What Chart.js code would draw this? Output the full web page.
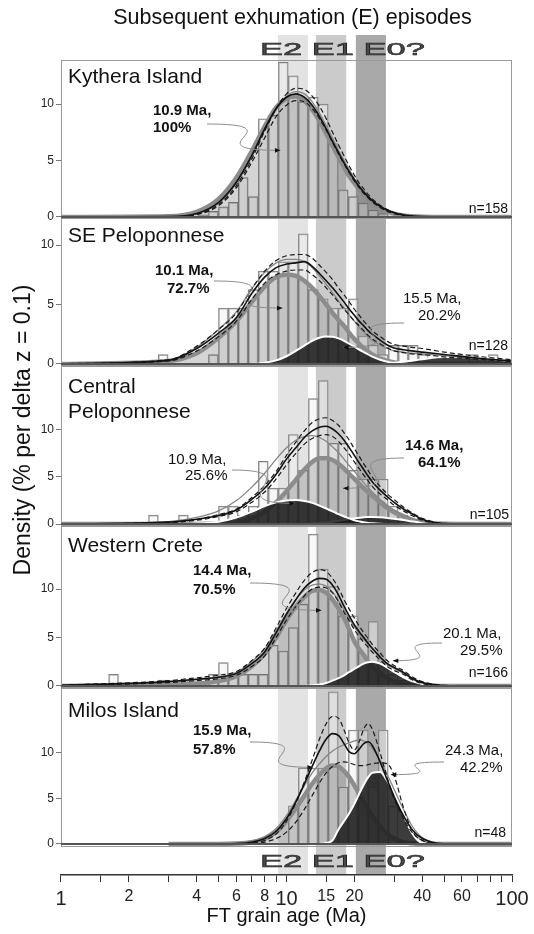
<!DOCTYPE html>
<html>
<head>
<meta charset="utf-8">
<script src="https://cdn.jsdelivr.net/npm/chart.js@4"></script>
<style>
  body { margin: 0; background: #fff; }
  #wrap { position: relative; width: 534px; height: 934px; overflow: hidden; }
  #c { position: absolute; left: 0; top: 0; }
  .t { position: absolute; white-space: nowrap; font-family: "Liberation Sans", Arial, sans-serif; color: #111; line-height: 1; }
  .lab { font-size: 21px; }
  .ann { font-size: 15px; }
  .b { font-weight: bold; }
  .n { font-size: 14px; }
  .e { font-size: 17px; transform: scaleX(2.03); transform-origin: 0 0; color: #4a4a4a; -webkit-text-stroke: 0.5px #222; }
</style>
</head>
<body>
<div id="wrap">
  <canvas id="c" width="534" height="934"></canvas>

  <div class="t" style="left:92px;width:401px;text-align:center;top:7px;font-size:21.5px">Subsequent exhumation (E) episodes</div>
  <div class="t e" style="left:260px;top:41px">E2 E1 E0?</div>
  <div class="t e" style="left:260px;top:853px">E2 E1 E0?</div>
  <div class="t" style="left:-178px;top:417px;width:400px;height:26px;line-height:26px;text-align:center;font-size:23px;transform:rotate(-90deg)">Density (% per delta z = 0.1)</div>

  <div class="t lab" style="left:68px;top:65px">Kythera Island</div>
  <div class="t lab" style="left:68px;top:224px">SE Peloponnese</div>
  <div class="t lab" style="left:68px;top:375px">Central</div>
  <div class="t lab" style="left:68px;top:400px">Peloponnese</div>
  <div class="t lab" style="left:68px;top:534px">Western Crete</div>
  <div class="t lab" style="left:68px;top:699px">Milos Island</div>

  <div class="t ann b" style="left:153px;top:102px">10.9 Ma,</div>
  <div class="t ann b" style="left:153px;top:119px">100%</div>
  <div class="t ann b" style="left:155px;top:262px">10.1 Ma,</div>
  <div class="t ann b" style="left:167px;top:280px">72.7%</div>
  <div class="t ann" style="left:403px;top:290px">15.5 Ma,</div>
  <div class="t ann" style="left:418px;top:307px">20.2%</div>
  <div class="t ann" style="left:168px;top:451px">10.9 Ma,</div>
  <div class="t ann" style="left:185px;top:467px">25.6%</div>
  <div class="t ann b" style="left:405px;top:437px">14.6 Ma,</div>
  <div class="t ann b" style="left:418px;top:454px">64.1%</div>
  <div class="t ann b" style="left:193px;top:562px">14.4 Ma,</div>
  <div class="t ann b" style="left:193px;top:581px">70.5%</div>
  <div class="t ann" style="left:443px;top:625px">20.1 Ma,</div>
  <div class="t ann" style="left:460px;top:642px">29.5%</div>
  <div class="t ann b" style="left:193px;top:722px">15.9 Ma,</div>
  <div class="t ann b" style="left:193px;top:741px">57.8%</div>
  <div class="t ann" style="left:445px;top:742px">24.3 Ma,</div>
  <div class="t ann" style="left:460px;top:759px">42.2%</div>

  <div class="t n" style="right:26px;top:201px">n=158</div>
  <div class="t n" style="right:26px;top:338px">n=128</div>
  <div class="t n" style="right:25px;top:507px">n=105</div>
  <div class="t n" style="right:26px;top:665px">n=166</div>
  <div class="t n" style="right:28px;top:825px">n=48</div>
</div>
<script>
const FONT = '"Liberation Sans", Arial, sans-serif';

// histogram bin centres (Ma), shared by all panels
const binAges = [1.71, 1.89, 2.09, 2.32, 2.57, 2.84, 3.15, 3.49, 3.86, 4.28, 4.74, 5.25, 5.81, 6.43, 7.12, 7.89, 8.74, 9.68, 10.72, 11.87, 13.15, 14.56, 16.13, 17.86, 19.78, 21.91, 24.26, 26.87, 29.76, 32.96, 36.50, 40.43, 44.77, 49.59, 54.92, 60.83, 67.37, 74.62, 82.64, 91.53];

const kytheraBars = [0,0,0,0,0,0,0,0,0, 0.2,0.5,0.9,1.3,3.5,1.8,8.7,9.0,13.7,12.5,10.2,10.6,10.0,6.5,2.4,1.8,1.2,0.6,0.3, 0,0,0,0,0,0,0,0,0,0,0,0];
const sePelBars = [0,0,0,0,0, 0.78, 0,0,0,0, 0.78,4.69,4.69,4.69,6.25,7.81,7.81,8.59,8.59,10.94,6.25,5.47,4.69,4.69,5.47,2.34,1.56,0.78,1.56,1.56,1.56,0.78, 0,0,0,0, 0.78, 0, 0.78, 0];
const cPelBars = [0,0,0,0, 0.95, 0,0, 0.95, 0,0,0, 1.9,1.9,0.95,1.9,6.67,3.81,3.81,9.52,5.71,13.33,15.24,8.57,8.57,5.71,4.76,4.76,4.76,1.9,0.95, 0,0,0,0,0,0,0,0,0,0];
const wCreteBars = [1.2, 0,0,0,0, 0.6, 0, 0.6, 0,0, 1.2,2.41,1.2,1.2,1.2,1.2,4.22,3.61,6.02,8.43,15.66,12.05,10.24,7.23,7.23,4.82,6.63,2.41,1.2,0.6,0.6, 0,0,0,0,0,0,0,0,0];
const milosBars = [0,0,0,0,0,0,0,0,0,0,0,0,0,0,0,0,0,0, 4.17,8.33,8.33,8.33,16.67,6.25,12.5,12.5,6.25,12.5,4.17, 0,0,0,0,0,0,0,0,0,0,0];

// ages at which the density curves were read
const curveAges = [1, 3, 4, 5, 6, 7, 8, 9, 10, 11, 12, 13, 14, 15, 16, 17, 18, 19, 20, 21, 22, 23, 24, 26, 28, 30, 33, 36, 40, 50, 70, 100];

const kytheraPD    = [0, 0.03, 0.3, 1.3, 3.1, 5.4, 7.8, 9.6, 10.6, 10.9, 10.6, 9.9, 8.9, 7.8, 6.7, 5.7, 4.8, 4.0, 3.3, 2.7, 2.2, 1.8, 1.45, 0.95, 0.6, 0.38, 0.18, 0.08, 0.03, 0, 0, 0];
const kytheraHi    = [0, 0.02, 0.25, 1.1, 2.8, 5.1, 7.6, 9.6, 10.9, 11.4, 11.3, 10.7, 9.8, 8.7, 7.5, 6.4, 5.4, 4.5, 3.7, 3.0, 2.5, 2.0, 1.6, 1.05, 0.65, 0.4, 0.2, 0.09, 0.03, 0, 0, 0];
const kytheraLo    = [0, 0.02, 0.2, 1.0, 2.6, 4.8, 7.0, 8.9, 9.9, 10.3, 10.2, 9.6, 8.7, 7.7, 6.6, 5.6, 4.7, 3.9, 3.2, 2.6, 2.1, 1.7, 1.35, 0.85, 0.5, 0.3, 0.14, 0.06, 0.02, 0, 0, 0];
const kytheraAlt   = [0, 0.02, 0.3, 1.2, 3.0, 5.3, 7.7, 9.6, 10.7, 11.1, 10.9, 10.2, 9.2, 8.1, 7.0, 5.9, 5.0, 4.2, 3.4, 2.8, 2.3, 1.85, 1.5, 0.95, 0.6, 0.37, 0.17, 0.08, 0.03, 0, 0, 0];
const kytheraPeak1 = [0, 0.06, 0.45, 1.6, 3.5, 5.8, 8.0, 9.7, 10.5, 10.7, 10.3, 9.5, 8.5, 7.4, 6.3, 5.3, 4.4, 3.6, 3.0, 2.4, 1.95, 1.55, 1.25, 0.8, 0.5, 0.3, 0.14, 0.06, 0.02, 0, 0, 0];

const sePelPD    = [0.02, 0.3, 1.3, 2.6, 3.9, 5.9, 7.3, 8.1, 8.4, 8.5, 8.6, 8.2, 7.6, 7.0, 6.4, 5.8, 5.2, 4.6, 4.1, 3.6, 3.2, 2.8, 2.5, 2.0, 1.6, 1.35, 1.2, 1.1, 1.0, 0.8, 0.5, 0.25];
const sePelHi    = [0.03, 0.35, 1.5, 2.9, 4.3, 6.3, 7.8, 8.7, 9.1, 9.2, 9.2, 8.9, 8.3, 7.7, 7.1, 6.4, 5.8, 5.2, 4.6, 4.1, 3.6, 3.2, 2.8, 2.3, 1.9, 1.65, 1.5, 1.4, 1.3, 1.0, 0.65, 0.35];
const sePelLo    = [0.01, 0.25, 1.1, 2.3, 3.6, 5.4, 6.8, 7.5, 7.8, 7.9, 7.9, 7.5, 7.0, 6.4, 5.8, 5.2, 4.6, 4.1, 3.6, 3.2, 2.8, 2.4, 2.1, 1.7, 1.35, 1.1, 0.95, 0.85, 0.8, 0.6, 0.4, 0.2];
const sePelAlt   = [0.02, 0.35, 1.4, 2.9, 4.4, 6.3, 7.7, 8.5, 8.8, 8.8, 8.6, 8.1, 7.4, 6.7, 6.0, 5.3, 4.7, 4.1, 3.6, 3.1, 2.7, 2.3, 2.0, 1.6, 1.3, 1.1, 1.0, 0.9, 0.85, 0.7, 0.45, 0.2];
const sePelPeak1 = [0, 0.25, 0.9, 2.2, 3.6, 5.2, 6.5, 7.3, 7.5, 7.4, 7.0, 6.4, 5.7, 5.0, 4.3, 3.7, 3.2, 2.6, 2.1, 1.7, 1.35, 1.05, 0.8, 0.45, 0.25, 0.13, 0.05, 0.02, 0, 0, 0, 0];
const sePelPeak2 = [0, 0, 0, 0, 0, 0, 0.1, 0.3, 0.65, 1.1, 1.55, 1.95, 2.2, 2.3, 2.28, 2.15, 1.95, 1.7, 1.45, 1.2, 1.0, 0.8, 0.62, 0.35, 0.18, 0.08, 0.02, 0, 0, 0, 0, 0];
const sePelPeak3 = [0, 0, 0, 0, 0, 0, 0, 0, 0, 0, 0, 0, 0, 0, 0, 0, 0, 0, 0, 0, 0, 0, 0, 0.02, 0.05, 0.1, 0.18, 0.28, 0.4, 0.58, 0.55, 0.3];

const cPelPD    = [0, 0.2, 0.5, 0.9, 1.5, 2.6, 3.8, 5.3, 6.9, 8.1, 9.2, 9.9, 10.3, 10.4, 10.1, 9.6, 8.9, 8.1, 7.3, 6.5, 5.8, 5.1, 4.5, 3.6, 2.9, 2.3, 1.6, 1.1, 0.5, 0.05, 0, 0];
const cPelHi    = [0, 0.2, 0.5, 1.0, 1.6, 2.8, 4.1, 5.6, 7.3, 8.7, 9.9, 10.8, 11.2, 11.3, 11.0, 10.5, 9.7, 8.9, 8.0, 7.2, 6.4, 5.7, 5.0, 4.0, 3.2, 2.6, 1.8, 1.2, 0.6, 0.07, 0, 0];
const cPelLo    = [0, 0.15, 0.4, 0.8, 1.3, 2.3, 3.4, 4.8, 6.3, 7.5, 8.5, 9.1, 9.4, 9.5, 9.3, 8.8, 8.1, 7.4, 6.6, 5.9, 5.2, 4.6, 4.0, 3.2, 2.6, 2.0, 1.4, 0.9, 0.4, 0.04, 0, 0];
const cPelAlt   = [0, 0.25, 0.7, 1.4, 2.5, 3.9, 5.4, 6.9, 8.1, 8.9, 9.3, 9.4, 9.2, 8.8, 8.2, 7.6, 6.9, 6.2, 5.6, 5.0, 4.4, 3.9, 3.4, 2.6, 2.0, 1.5, 1.0, 0.6, 0.25, 0.02, 0, 0];
const cPelPeak1 = [0, 0, 0, 0.05, 0.2, 0.6, 1.3, 2.3, 3.5, 4.7, 5.8, 6.6, 7.0, 7.0, 6.8, 6.4, 5.9, 5.3, 4.8, 4.3, 3.8, 3.4, 3.0, 2.3, 1.7, 1.25, 0.8, 0.45, 0.2, 0.02, 0, 0];
const cPelPeak2 = [0, 0, 0.05, 0.25, 0.7, 1.3, 1.9, 2.3, 2.5, 2.55, 2.45, 2.25, 1.95, 1.65, 1.35, 1.05, 0.8, 0.6, 0.4, 0.28, 0.18, 0.12, 0.07, 0.02, 0, 0, 0, 0, 0, 0, 0, 0];
const cPelPeak3 = [0, 0, 0, 0, 0, 0, 0, 0, 0, 0, 0, 0.05, 0.1, 0.15, 0.25, 0.35, 0.45, 0.53, 0.6, 0.66, 0.71, 0.74, 0.75, 0.72, 0.65, 0.55, 0.42, 0.28, 0.14, 0.01, 0, 0];

const wCretePD    = [0.05, 0.45, 0.7, 0.9, 1.3, 2.3, 3.5, 5.5, 7.4, 8.9, 10.1, 10.8, 11.1, 11.0, 10.4, 9.4, 8.2, 7.2, 6.3, 5.6, 5.0, 4.4, 3.9, 3.0, 2.3, 1.9, 1.4, 0.8, 0.35, 0.05, 0, 0];
const wCreteHi    = [0.07, 0.55, 0.85, 1.1, 1.5, 2.6, 3.9, 6.0, 8.0, 9.6, 10.9, 11.7, 12.0, 11.8, 11.1, 10.1, 8.9, 7.9, 7.0, 6.2, 5.5, 4.9, 4.3, 3.4, 2.6, 2.1, 1.6, 0.95, 0.45, 0.07, 0, 0];
const wCreteLo    = [0.03, 0.35, 0.55, 0.75, 1.1, 2.0, 3.1, 5.0, 6.8, 8.2, 9.3, 10.0, 10.2, 10.1, 9.6, 8.7, 7.6, 6.7, 5.8, 5.1, 4.5, 4.0, 3.5, 2.7, 2.0, 1.6, 1.2, 0.65, 0.25, 0.03, 0, 0];
const wCreteAlt   = [0.04, 0.4, 0.65, 0.9, 1.4, 2.5, 3.8, 5.7, 7.5, 8.9, 9.9, 10.4, 10.5, 10.3, 9.7, 8.8, 7.8, 6.9, 6.1, 5.4, 4.8, 4.3, 3.8, 2.9, 2.2, 1.8, 1.3, 0.75, 0.3, 0.04, 0, 0];
const wCretePeak1 = [0, 0.1, 0.25, 0.5, 1.0, 2.0, 3.3, 5.0, 6.8, 8.2, 9.2, 9.8, 9.9, 9.6, 8.9, 8.0, 7.0, 5.8, 4.6, 3.8, 3.2, 2.5, 2.0, 1.3, 0.8, 0.45, 0.2, 0.08, 0.03, 0, 0, 0];
const wCretePeak2 = [0, 0, 0, 0, 0, 0, 0, 0, 0, 0, 0, 0.05, 0.15, 0.3, 0.55, 0.8, 1.1, 1.45, 1.75, 2.05, 2.3, 2.45, 2.5, 2.3, 1.9, 1.45, 0.9, 0.5, 0.2, 0.02, 0, 0];

const milosPD    = [0, 0, 0, 0.02, 0.06, 0.2, 0.6, 1.4, 2.8, 4.6, 6.6, 8.5, 10.2, 11.5, 12.1, 11.9, 11.0, 10.1, 9.9, 10.4, 11.0, 11.2, 10.8, 9.0, 7.0, 5.2, 3.1, 1.6, 0.6, 0.03, 0, 0];
const milosHi    = [0, 0, 0, 0, 0, 0.1, 0.4, 1.1, 2.5, 4.5, 6.8, 9.2, 11.5, 13.2, 14.0, 13.8, 12.5, 11.0, 10.3, 11.2, 12.6, 13.2, 12.6, 10.0, 7.2, 5.0, 2.8, 1.3, 0.4, 0, 0, 0];
const milosLo    = [0, 0, 0, 0, 0, 0, 0.2, 0.6, 1.3, 2.4, 3.8, 5.3, 6.7, 7.8, 8.5, 8.9, 9.0, 8.9, 8.7, 8.6, 8.6, 8.7, 8.8, 8.9, 8.8, 7.5, 4.0, 1.5, 0.4, 0, 0, 0];
const milosAlt   = [0, 0, 0, 0.02, 0.08, 0.3, 0.8, 1.7, 3.1, 4.8, 6.4, 7.8, 8.8, 9.6, 10.2, 10.6, 10.9, 11.1, 11.3, 11.4, 11.3, 11.0, 10.5, 9.2, 7.6, 6.0, 3.8, 2.0, 0.7, 0.03, 0, 0];
const milosPeak1 = [null, 0, 0, 0, 0.05, 0.2, 0.55, 1.3, 2.5, 3.9, 5.3, 6.6, 7.6, 8.3, 8.6, 8.5, 8.0, 7.3, 6.4, 5.5, 4.6, 3.8, 3.1, 1.9, 1.1, 0.6, 0.2, 0.07, 0.01, 0, 0, 0];
const milosPeak2 = [0, 0, 0, 0, 0, 0, 0, 0, 0, 0, 0, 0, 0, 0.1, 0.4, 1.6, 2.5, 3.4, 4.4, 5.5, 6.5, 7.3, 7.8, 7.9, 6.9, 5.5, 3.2, 1.2, 0.1, 0, 0, 0];

// exhumation episodes E2, E1, E0? (Ma)
const bandFrom = [9.17, 13.5, 20.3];
const bandTo = [12.45, 18.4, 27.6];
const bandColors = ['#e3e3e3', '#cbcbcb', '#a9a9a9'];

const axisTicks = [1, 1.5, 2, 3, 4, 5, 6, 7, 8, 9, 10, 15, 20, 30, 40, 50, 60, 70, 80, 90, 100];
const axisLabels = [1, 2, 4, 6, 8, 10, 15, 20, 40, 60, 100];
const bigLabels = [1, 10, 100];
const yTicks = [0, 5, 10];

// leader lines from the peak labels to the fitted peaks
const notes = [
  {axis: 'p1', age: 9.4, value: 5.9, from: [207, 124]},
  {axis: 'p2', age: 9.6, value: 4.7, from: [214, 281]},
  {axis: 'p2', age: 17.8, value: 1.4, from: [404, 323]},
  {axis: 'p3', age: 10.9, value: 2.2, from: [232, 470]},
  {axis: 'p3', age: 17.8, value: 3.8, from: [404, 458]},
  {axis: 'p4', age: 14.3, value: 7.8, from: [250, 583]},
  {axis: 'p4', age: 29.6, value: 2.6, from: [442, 643]},
  {axis: 'p5', age: 13.1, value: 8.4, from: [250, 742]},
  {axis: 'p5', age: 29, value: 7.6, from: [444, 762]}
];

function bars(values, axis) {
  return {
    type: 'bar', yAxisID: axis, grouped: false, order: 10,
    data: binAges.map((a, i) => ({x: a, y: values[i]})),
    backgroundColor: 'rgba(242,242,242,0.5)', borderColor: '#808080', borderWidth: 1,
    barPercentage: 1, categoryPercentage: 1
  };
}

function curve(values, axis, kind) {
  const styles = {
    pd:   {borderColor: '#111', borderWidth: 1.6, order: 1},
    hi:   {borderColor: '#1a1a1a', borderWidth: 1.2, borderDash: [5, 3], order: 2},
    lo:   {borderColor: '#1a1a1a', borderWidth: 1.2, borderDash: [5, 3], order: 2},
    alt:  {borderColor: '#858585', borderWidth: 1.3, order: 3},
    peak: {borderColor: '#8c8c8c', borderWidth: 4.5, fill: 'origin', backgroundColor: 'rgba(60,60,60,0.22)', order: 8},
    dark: {borderColor: '#fff', borderWidth: 2, fill: 'origin', backgroundColor: 'rgba(28,28,28,0.86)', order: 7}
  };
  return Object.assign({
    type: 'line', yAxisID: axis, fill: false, pointRadius: 0,
    cubicInterpolationMode: 'monotone',
    data: curveAges.map((a, i) => ({x: a, y: values[i]}))
  }, styles[kind]);
}

const datasets = [
  bars(kytheraBars, 'p1'),
  curve(kytheraPeak1, 'p1', 'peak'),
  curve(kytheraAlt, 'p1', 'alt'),
  curve(kytheraHi, 'p1', 'hi'),
  curve(kytheraLo, 'p1', 'lo'),
  curve(kytheraPD, 'p1', 'pd'),

  bars(sePelBars, 'p2'),
  curve(sePelPeak1, 'p2', 'peak'),
  curve(sePelPeak2, 'p2', 'dark'),
  curve(sePelPeak3, 'p2', 'dark'),
  curve(sePelAlt, 'p2', 'alt'),
  curve(sePelHi, 'p2', 'hi'),
  curve(sePelLo, 'p2', 'lo'),
  curve(sePelPD, 'p2', 'pd'),

  bars(cPelBars, 'p3'),
  curve(cPelPeak1, 'p3', 'peak'),
  curve(cPelPeak2, 'p3', 'dark'),
  curve(cPelPeak3, 'p3', 'dark'),
  curve(cPelAlt, 'p3', 'alt'),
  curve(cPelHi, 'p3', 'hi'),
  curve(cPelLo, 'p3', 'lo'),
  curve(cPelPD, 'p3', 'pd'),

  bars(wCreteBars, 'p4'),
  curve(wCretePeak1, 'p4', 'peak'),
  curve(wCretePeak2, 'p4', 'dark'),
  curve(wCreteAlt, 'p4', 'alt'),
  curve(wCreteHi, 'p4', 'hi'),
  curve(wCreteLo, 'p4', 'lo'),
  curve(wCretePD, 'p4', 'pd'),

  bars(milosBars, 'p5'),
  curve(milosPeak1, 'p5', 'peak'),
  curve(milosPeak2, 'p5', 'dark'),
  curve(milosAlt, 'p5', 'alt'),
  curve(milosHi, 'p5', 'hi'),
  curve(milosLo, 'p5', 'lo'),
  curve(milosPD, 'p5', 'pd')
];

function panelAxis(min, max, height, weight) {
  return {
    type: 'linear', position: 'left', stack: 'panels', stackWeight: height, weight,
    min, max,
    afterBuildTicks: s => { s.ticks = yTicks.map(v => ({value: v})); },
    afterFit: s => { s.width = 61; },
    ticks: {font: {family: FONT, size: 12}, color: '#222', padding: 2},
    grid: {drawOnChartArea: false, tickLength: 5, color: '#777'},
    border: {display: false}
  };
}

const panels = ['p1', 'p2', 'p3', 'p4', 'p5'];

const backdrop = {
  id: 'backdrop',
  beforeDraw(chart) {
    const {ctx, chartArea, scales: {x}} = chart;
    ctx.save();
    bandFrom.forEach((a, i) => {
      const x0 = x.getPixelForValue(a), x1 = x.getPixelForValue(bandTo[i]);
      ctx.fillStyle = bandColors[i];
      ctx.fillRect(x0, chartArea.top - 25, x1 - x0, chartArea.bottom - chartArea.top + 25);
    });
    ctx.restore();
  },
  afterDatasetsDraw(chart) {
    const {ctx, chartArea, scales} = chart;
    ctx.save();
    panels.forEach(id => {
      const s = scales[id];
      ctx.strokeStyle = '#9a9a9a';
      ctx.lineWidth = 1;
      ctx.strokeRect(chartArea.left + 0.5, s.top + 0.5, chartArea.right - chartArea.left - 1, s.bottom - s.top - 1);
      const y0 = s.getPixelForValue(0);
      ctx.strokeStyle = '#555';
      ctx.lineWidth = 2;
      ctx.beginPath();
      ctx.moveTo(chartArea.left, y0);
      ctx.lineTo(chartArea.right, y0);
      ctx.stroke();
    });
    notes.forEach(n => {
      const tx = scales.x.getPixelForValue(n.age);
      const ty = scales[n.axis].getPixelForValue(n.value);
      const [fx, fy] = n.from;
      const dx = tx - fx;
      const c2x = fx - 0.3 * dx, c2y = ty;
      ctx.strokeStyle = '#8a8a8a';
      ctx.lineWidth = 1;
      ctx.beginPath();
      ctx.moveTo(fx, fy);
      ctx.bezierCurveTo(fx + 1.3 * dx, fy, c2x, c2y, tx, ty);
      ctx.stroke();
      const ang = Math.atan2(ty - c2y, tx - c2x);
      ctx.fillStyle = '#111';
      ctx.beginPath();
      ctx.moveTo(tx, ty);
      ctx.lineTo(tx - 6 * Math.cos(ang - 0.4), ty - 6 * Math.sin(ang - 0.4));
      ctx.lineTo(tx - 6 * Math.cos(ang + 0.4), ty - 6 * Math.sin(ang + 0.4));
      ctx.closePath();
      ctx.fill();
    });
    ctx.restore();
  }
};

new Chart(document.getElementById('c').getContext('2d'), {
  type: 'bar',
  data: {datasets},
  options: {
    responsive: false,
    animation: false,
    devicePixelRatio: 1,
    layout: {padding: {top: 60, right: 22, left: 0, bottom: 0}},
    plugins: {legend: {display: false}, tooltip: {enabled: false}},
    scales: {
      x: {
        type: 'logarithmic', position: 'bottom', min: 1, max: 100, offset: false,
        afterBuildTicks: s => { s.ticks = axisTicks.map(v => ({value: v})); },
        afterFit: s => { s.height = 59; },
        ticks: {
          autoSkip: false, maxRotation: 0, padding: 5, color: '#222',
          font: c => ({family: FONT, size: c.tick && bigLabels.includes(c.tick.value) ? 20 : 16}),
          callback: v => axisLabels.includes(v) ? String(v) : ''
        },
        grid: {drawOnChartArea: false, offset: false, tickLength: 7, color: '#333'},
        border: {color: '#333', width: 1.5},
        title: {display: true, text: 'FT grain age (Ma)', color: '#111', font: {family: FONT, size: 20}, padding: {top: 0, bottom: 6}}
      },
      p1: panelAxis(-0.09, 13.9, 158, 6),
      p2: panelAxis(-0.17, 12.27, 148, 5),
      p3: panelAxis(-0.21, 16.8, 160, 4),
      p4: panelAxis(-0.21, 16.5, 162, 3),
      p5: panelAxis(-0.33, 17.1, 159, 2),
      gap: {
        type: 'linear', position: 'left', stack: 'panels', stackWeight: 28, weight: 1, min: 0, max: 1,
        afterFit: s => { s.width = 61; },
        ticks: {display: false}, grid: {display: false}, border: {display: false}
      }
    }
  },
  plugins: [backdrop]
});
</script>
</body>
</html>
